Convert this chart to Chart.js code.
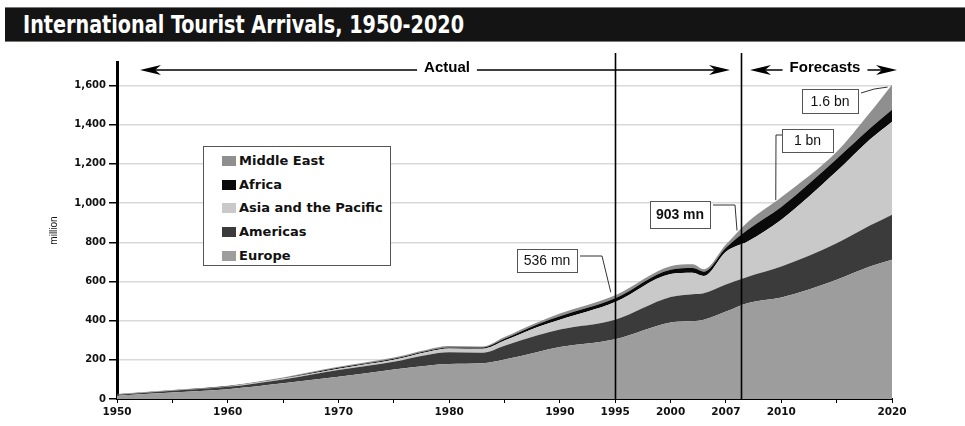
<!DOCTYPE html>
<html>
<head>
<meta charset="utf-8">
<script src="https://cdn.jsdelivr.net/npm/chart.js@4.4.0/dist/chart.umd.min.js"></script>
<style>
  html, body { margin: 0; padding: 0; background: #fff; }
  #wrap { position: relative; width: 965px; height: 426px; overflow: hidden; }
  #chartBox { position: absolute; left: 0; top: 0; width: 965px; height: 426px; }
  #title { position: absolute; left: 5px; top: 7px; width: 960px; height: 33px; background: #141414;
           border-top: 1px solid #777; border-bottom: 1px solid #777; }
  #title span { position: absolute; left: 18px; top: 2px; line-height: 34px; color: #fff; white-space: nowrap;
                font: bold 25px "Liberation Sans Narrow", "DejaVu Sans Condensed", sans-serif; transform-origin: left center; }
  #legend { position: absolute; left: 203px; top: 146px; width: 186px; height: 118px; background: #fff; border: 1px solid #555; }
  .item { position: absolute; left: 18px; height: 14px; line-height: 14px; white-space: nowrap; color: #111;
          font: bold 13px "DejaVu Sans", sans-serif; }
  .sw { display: inline-block; width: 14px; height: 10px; margin-right: 3px; vertical-align: -1px; }
</style>
</head>
<body>
<div id="wrap">
  <div id="chartBox"><canvas id="tourism-chart"></canvas></div>
  <div id="title"><span id="titleText">International Tourist Arrivals, 1950-2020</span></div>
  <div id="legend"></div>
</div>
<script>
// years, values in million arrivals (each region, not cumulative)
const years      = [1950, 1955, 1960, 1965, 1970, 1975, 1978, 1980, 1983, 1985, 1988, 1990, 1995, 2000, 2002, 2003, 2005, 2007, 2010, 2015, 2018, 2020];
const europe     = [17, 33, 50, 80, 113, 150, 170, 178, 182, 201, 240, 265, 305, 390, 398, 405, 446, 490, 518, 609, 676, 711];
const americas   = [5, 9, 12, 20, 35, 40, 55, 60, 54, 71, 85, 90, 100, 130, 137, 135, 138, 134, 158, 186, 209, 230];
const asiaPacific= [1, 2, 2, 4, 7, 10, 15, 20, 20, 26, 43, 50, 90, 118, 110, 88, 168, 181, 239, 367, 439, 474];
const africa     = [1, 1, 2, 2, 4, 5, 5, 5, 7, 9, 13, 17, 19, 22, 23, 22, 20, 60, 65, 63, 56, 61];
const middleEast = [1, 1, 2, 4, 5, 7, 7, 7, 5, 9, 11, 14, 16, 18, 20, 12, 16, 40, 50, 37, 81, 128];

const seriesNames  = ["Europe", "Americas", "Asia and the Pacific", "Africa", "Middle East"];
const seriesColors = ["#9d9d9d", "#3b3b3b", "#c9c9c9", "#0a0a0a", "#8f8f8f"];

const yTicks = [0, 200, 400, 600, 800, 1000, 1200, 1400, 1600];
const xTickYears  = [1950, 1955, 1960, 1965, 1970, 1975, 1980, 1985, 1990, 1995, 2000, 2005, 2010, 2015, 2020];
const xTickLabels = ["1950", "", "1960", "", "1970", "", "1980", "", "1990", "1995", "2000", "2007", "2010", "", "2020"];

const markerYears = [1995, 2006.4]; // vertical lines: start of the period shown / start of forecasts

// callout labels: text, box (px) and the point on the curve they point at
const callouts = [
  { text: "536 mn", box: [517, 249, 60, 23], bold: false, path: [[580, 256], [602, 256]], year: 1994.6, value: 545 },
  { text: "903 mn", box: [650, 201, 60, 27], bold: true,  path: [[713, 205], [735, 205]], year: 2006,   value: 860 },
  { text: "1 bn",   box: [782, 129, 51, 23], bold: false, path: [[782, 135], [776, 135]], year: 2009.5, value: 1015 },
  { text: "1.6 bn", box: [802, 89, 56, 24],  bold: false, path: [[861, 93]],              year: 2019.6, value: 1592, curve: true }
];

const seriesValues = [europe, americas, asiaPacific, africa, middleEast];

// legend (reverse order, like the original)
const legendEl = document.getElementById("legend");
seriesNames.slice().reverse().forEach((name, i) => {
  const idx = seriesNames.length - 1 - i;
  const row = document.createElement("div");
  row.className = "item";
  row.style.top = (6 + i * 23.7) + "px";
  row.innerHTML = '<span class="sw" style="background:' + seriesColors[idx] + '"></span>' + name;
  legendEl.appendChild(row);
});

// stretch title to the width seen in the picture
const titleSpan = document.getElementById("titleText");
const tw = titleSpan.getBoundingClientRect().width;
titleSpan.style.transform = "scaleX(" + (441 / tw) + ")";

function arrowHead(ctx, tipX, yy, dir) {
  ctx.beginPath();
  ctx.moveTo(tipX, yy);
  ctx.lineTo(tipX - dir * 21, yy - 5);
  ctx.lineTo(tipX - dir * 15, yy);
  ctx.lineTo(tipX - dir * 21, yy + 5);
  ctx.closePath();
  ctx.fill();
}

function spanArrow(ctx, left, right, yy, text, textX) {
  ctx.font = "bold 15px 'Liberation Sans', Arial, sans-serif";
  const w = ctx.measureText(text).width;
  ctx.fillText(text, textX, yy - 2);
  ctx.beginPath();
  ctx.moveTo(left + 15, yy); ctx.lineTo(textX - w / 2 - 7, yy);
  ctx.moveTo(textX + w / 2 + 7, yy); ctx.lineTo(right - 15, yy);
  ctx.stroke();
  arrowHead(ctx, left, yy, -1);
  arrowHead(ctx, right, yy, 1);
}

const decorPlugin = {
  id: "decor",
  afterDatasetsDraw(chart) {
    const { ctx, chartArea: a, scales: { x, y } } = chart;
    ctx.save();
    ctx.strokeStyle = "#000";
    ctx.fillStyle = "#000";
    ctx.lineWidth = 1.6;
    markerYears.forEach(yr => {
      const px = Math.round(x.getPixelForValue(yr)) + 0.5;
      ctx.beginPath();
      ctx.moveTo(px, 53);
      ctx.lineTo(px, a.bottom);
      ctx.stroke();
    });

    ctx.lineWidth = 1.5;
    ctx.textAlign = "center";
    ctx.textBaseline = "middle";
    spanArrow(ctx, 140, 730, 70, "Actual", 447);
    spanArrow(ctx, 750, 897, 70, "Forecasts", 825);

    // callouts
    callouts.forEach(c => {
      const ex = x.getPixelForValue(c.year), ey = y.getPixelForValue(c.value);
      ctx.strokeStyle = "#333";
      ctx.lineWidth = 1;
      ctx.beginPath();
      ctx.moveTo(c.path[0][0], c.path[0][1]);
      if (c.curve) {
        ctx.quadraticCurveTo(874, 88, ex, ey);
      } else {
        c.path.slice(1).forEach(p => ctx.lineTo(p[0], p[1]));
        ctx.lineTo(ex, ey);
      }
      ctx.stroke();
      const [bx, by, bw, bh] = c.box;
      ctx.fillStyle = "#fff";
      ctx.fillRect(bx, by, bw, bh);
      ctx.strokeStyle = "#555";
      ctx.strokeRect(bx + 0.5, by + 0.5, bw, bh);
      ctx.fillStyle = "#111";
      ctx.font = (c.bold ? "bold " : "") + "14px 'Liberation Sans', Arial, sans-serif";
      ctx.fillText(c.text, bx + bw / 2, by + bh / 2 + 1);
    });
    ctx.restore();
  }
};

new Chart(document.getElementById("tourism-chart"), {
  type: "line",
  data: {
    datasets: seriesNames.map((name, i) => ({
      label: name,
      data: years.map((yr, j) => ({ x: yr, y: seriesValues[i][j] })),
      backgroundColor: seriesColors[i],
      borderColor: seriesColors[i],
      borderWidth: 0,
      pointRadius: 0,
      fill: i === 0 ? "origin" : "-1",
      cubicInterpolationMode: "monotone"
    }))
  },
  options: {
    responsive: true,
    maintainAspectRatio: false,
    animation: false,
    layout: { padding: { top: 62, left: 48, right: 73, bottom: 0 } },
    plugins: { legend: { display: false }, tooltip: { enabled: false } },
    scales: {
      x: {
        type: "linear",
        min: 1950,
        max: 2020,
        afterBuildTicks: axis => { axis.ticks = xTickYears.map(v => ({ value: v })); },
        afterFit: scale => { scale.height = 27; },
        grid: { drawOnChartArea: false, drawTicks: true, tickLength: 4, tickColor: "#000", tickWidth: 1 },
        border: { display: true, color: "#000", width: 2 },
        ticks: {
          autoSkip: false,
          maxRotation: 0,
          padding: 3,
          color: "#111",
          font: { family: "'DejaVu Sans', sans-serif", weight: "bold", size: 10.5 },
          callback: (v, i) => xTickLabels[i]
        }
      },
      y: {
        stacked: true,
        min: 0,
        max: 1720,
        afterBuildTicks: axis => { axis.ticks = yTicks.map(v => ({ value: v })); },
        afterFit: scale => { scale.width = 69; },
        grid: { color: "#d9d9d9", lineWidth: 1.5, tickColor: "#000", tickLength: 8, tickWidth: 1.5 },
        border: { display: true, color: "#000", width: 3 },
        title: { display: true, text: "million", color: "#111", font: { family: "'Liberation Sans', Arial, sans-serif", size: 10 }, padding: { top: 0, bottom: 0 } },
        ticks: {
          padding: 3,
          color: "#111",
          font: { family: "'DejaVu Sans', sans-serif", weight: "bold", size: 10 },
          callback: v => v.toLocaleString("en-US")
        }
      }
    }
  },
  plugins: [decorPlugin]
});
</script>
</body>
</html>
